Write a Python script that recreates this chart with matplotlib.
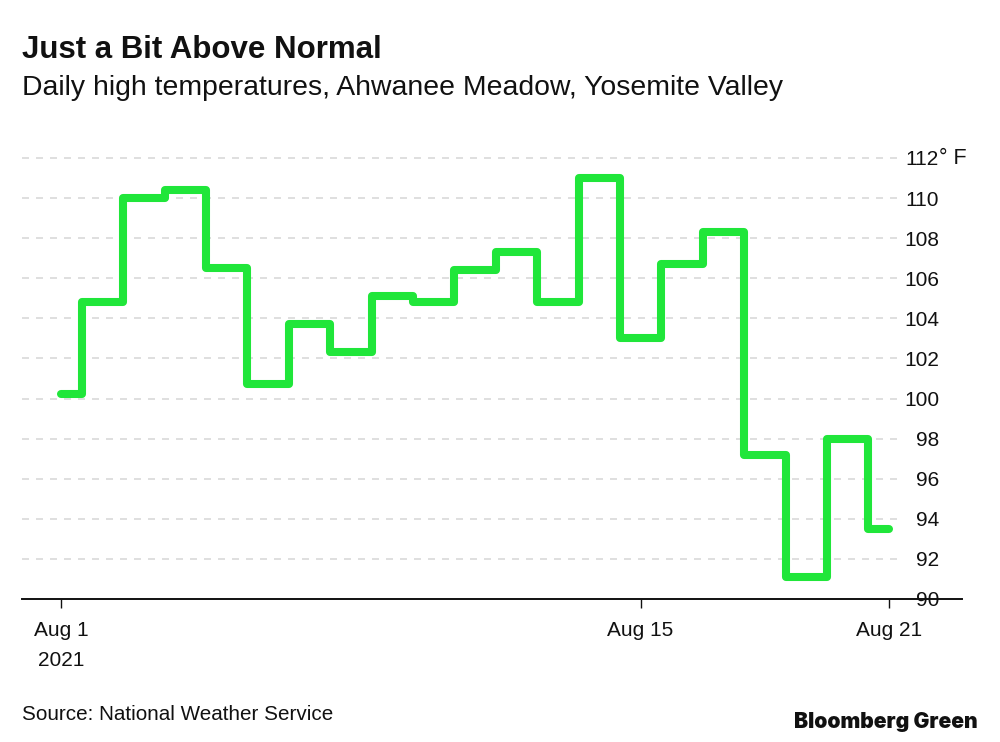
import matplotlib
matplotlib.use('Agg')
import matplotlib.pyplot as plt

plt.rcParams['font.family'] = ['Liberation Sans', 'DejaVu Sans']

days = list(range(21))
highs = [100.2, 104.8, 110.0, 110.4, 106.5, 100.7, 103.7, 102.3, 105.1, 104.8, 106.4,
         107.3, 104.8, 111.0, 103.0, 106.7, 108.3, 97.2, 91.1, 98.0, 93.5]
y_ticks = [90, 92, 94, 96, 98, 100, 102, 104, 106, 108, 110, 112]
x_ticks = [0, 14, 20]
x_labels = ['Aug 1\n2021', 'Aug 15', 'Aug 21']

GREEN = '#20e63a'
INK = '#111111'
W, H = 1000, 742

fig = plt.figure(figsize=(W / 100, H / 100), dpi=100)
# axes box in pixels: x 22-962, y 140-599
ax = fig.add_axes([22 / W, 1 - 599 / H, 940 / W, 459 / H])
ax.set_xlim((22 - 61) / 41.4, (962 - 61) / 41.4)
ax.set_ylim(90, 90 + 459 / 20.05)
ax.patch.set_alpha(0)

ax.hlines(y_ticks[1:], ax.get_xlim()[0], 20.35, color='#d9d9d9', lw=1.2,
          linestyles=(0, (4.2, 4.2)), zorder=1)
ax.step(days, highs, where='mid', color=GREEN, lw=5.8, zorder=3,
        solid_joinstyle='round', solid_capstyle='round')

for s in ['top', 'left', 'right']:
    ax.spines[s].set_visible(False)
ax.spines['bottom'].set_linewidth(1.4)
ax.spines['bottom'].set_color(INK)

ax.set_xticks(x_ticks)
ax.set_xticklabels(x_labels, fontsize=15, color=INK, linespacing=1.75)
ax.tick_params(axis='x', length=6.5, width=1, color=INK, pad=9.5)

ax.yaxis.tick_right()
ax.set_yticks(y_ticks)
ax.set_yticklabels([str(t) for t in y_ticks], fontsize=15, color=INK, ha='right')
ax.tick_params(axis='y', length=0, pad=-16.5)
ax.text(939 / W, 1 - 158 / H, '° F', transform=fig.transFigure, fontsize=15.5, color=INK,
        ha='left', va='center')

fig.text(22 / W, 1 - 50 / H, 'Just a Bit Above Normal', fontsize=22.5, fontweight='bold',
         color=INK, va='center')
fig.text(22 / W, 1 - 88 / H, 'Daily high temperatures, Ahwanee Meadow, Yosemite Valley',
         fontsize=20.4, color=INK, va='center')
fig.text(22 / W, 1 - 714 / H, 'Source: National Weather Service', fontsize=14.9, color=INK,
         va='center')
fig.text(978 / W, 1 - 722 / H, 'Bloomberg Green', fontsize=15.2, family='Inter', fontweight='black',
         color=INK, ha='right', va='center')

fig.savefig('out.png', dpi=100)
